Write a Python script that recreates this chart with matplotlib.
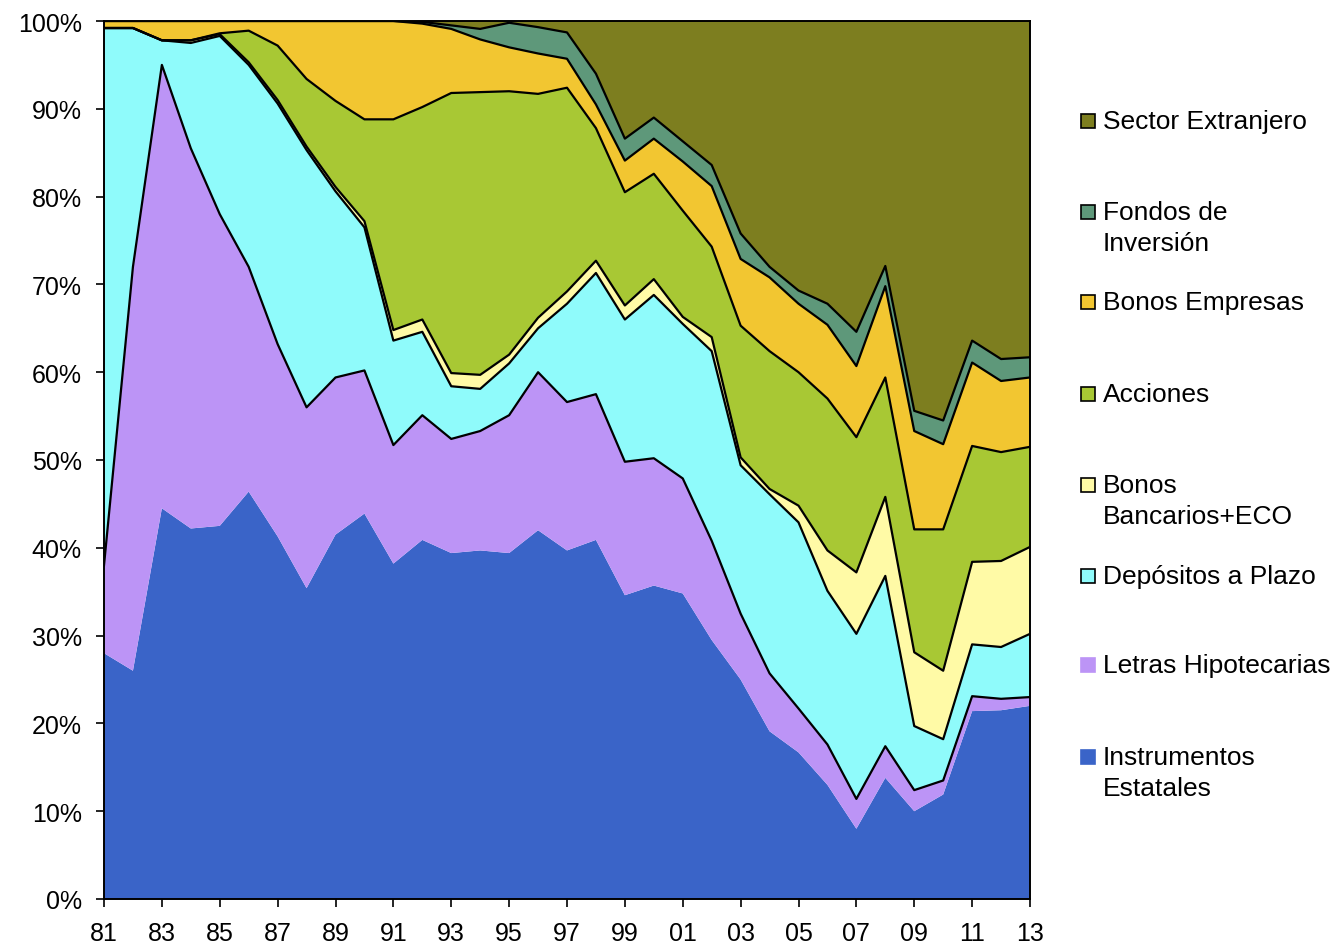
import numpy as np
import matplotlib
matplotlib.use("Agg")
import matplotlib.pyplot as plt
from matplotlib.patches import Rectangle

plt.rcParams['font.family'] = ['Liberation Sans', 'DejaVu Sans']

years = list(range(1981, 2014))
year_labels = ["81", "83", "85", "87", "89", "91", "93", "95", "97", "99",
               "01", "03", "05", "07", "09", "11", "13"]

# cumulative upper boundary (%) of each layer
top_estatales = [28, 26, 44.5, 42.2, 42.5, 46.4, 41.3, 35.4, 41.5, 43.9, 38.2, 40.9, 39.4, 39.7, 39.4, 42.0, 39.7,
                 40.9, 34.6, 35.7, 34.8, 29.5, 25.0, 19.1, 16.7, 13.0, 8.0, 13.8, 10.0, 11.9, 21.4, 21.5, 22.0]
top_letras = [38, 72, 95, 85.5, 78, 72, 63.2, 56, 59.4, 60.2, 51.7, 55.1, 52.4, 53.3, 55.1, 60.0, 56.6,
              57.5, 49.8, 50.2, 47.9, 40.8, 32.5, 25.7, 21.7, 17.6, 11.4, 17.4, 12.4, 13.5, 23.1, 22.8, 23.0]
top_depositos = [99.2, 99.2, 97.8, 97.5, 98.3, 95.0, 90.6, 85.3, 80.6, 76.5, 63.6, 64.6, 58.4, 58.1, 61.0, 65.0, 67.8,
                 71.3, 66.0, 68.8, 65.5, 62.4, 49.4, 46.1, 42.9, 35.1, 30.2, 36.8, 19.7, 18.2, 29.0, 28.7, 30.2]
top_bonos_banc = [99.2, 99.2, 97.8, 97.8, 98.5, 95.3, 91.0, 85.7, 81.1, 77.2, 64.8, 66.0, 59.9, 59.7, 62.0, 66.2, 69.2,
                  72.7, 67.6, 70.6, 66.3, 64.0, 50.3, 46.7, 44.8, 39.7, 37.2, 45.8, 28.1, 26.0, 38.4, 38.5, 40.1]
top_acciones = [99.2, 99.2, 97.8, 97.8, 98.6, 98.9, 97.2, 93.4, 90.9, 88.8, 88.8, 90.2, 91.8, 91.9, 92.0, 91.7, 92.4,
                87.8, 80.5, 82.6, 78.4, 74.3, 65.3, 62.4, 60.0, 57.0, 52.6, 59.4, 42.1, 42.1, 51.6, 50.9, 51.5]
top_bonos_emp = [100, 100, 100, 100, 100, 100, 100, 100, 100, 100, 100, 99.7, 99.1, 97.9, 97.0, 96.3, 95.7,
                 90.5, 84.1, 86.6, 84.0, 81.2, 72.9, 70.8, 67.8, 65.4, 60.7, 69.8, 53.3, 51.8, 61.1, 59.0, 59.4]
top_fondos = [100, 100, 100, 100, 100, 100, 100, 100, 100, 100, 100, 99.9, 99.5, 99.1, 99.8, 99.3, 98.7,
              94.0, 86.6, 89.0, 86.3, 83.6, 75.8, 72.0, 69.3, 67.8, 64.6, 72.1, 55.6, 54.5, 63.6, 61.5, 61.7]
top_extranjero = [100] * 33

names = ["Instrumentos\nEstatales", "Letras Hipotecarias", "Depósitos a Plazo", "Bonos\nBancarios+ECO",
         "Acciones", "Bonos Empresas", "Fondos de\nInversión", "Sector Extranjero"]
colors = ["#3A64C8", "#BC94F6", "#8FFBFB", "#FFFAA6", "#A8C834", "#F2C631", "#5E987A", "#7D7E1F"]
edged = [False, False, True, True, True, True, True, True]

tops = np.array([top_estatales, top_letras, top_depositos, top_bonos_banc, top_acciones,
                 top_bonos_emp, top_fondos, top_extranjero], dtype=float)
shares = np.diff(np.vstack([np.zeros(len(years)), tops]), axis=0)

W, H = 1341, 945
fig = plt.figure(figsize=(W / 100, H / 100), dpi=100)
ax = fig.add_axes([104 / W, 1 - 900 / H, (1030 - 104) / W, (900 - 22) / H])

ax.stackplot(years, shares, colors=colors, edgecolor='none', linewidth=0)
cum = np.cumsum(shares, axis=0)
for i in range(1, len(names) - 1):
    ax.plot(years, cum[i], color='black', lw=1.6)

ax.set_xlim(1981, 2013)
ax.set_ylim(0, 100)
ax.set_xticks(list(range(1981, 2014, 2)))
ax.set_xticklabels(year_labels)
ax.set_yticks(range(0, 101, 10))
ax.set_yticklabels([f"{v}%" for v in range(0, 101, 10)])
ax.tick_params(axis='both', labelsize=18, direction='out', length=6, width=1.2, colors='black')
ax.tick_params(axis='y', pad=10)
ax.tick_params(axis='x', pad=10)
for s in ax.spines.values():
    s.set_linewidth(1.4)
    s.set_color('black')

# legend drawn manually on the right
legend_rows = [
    (7, ["Sector Extranjero"], 122),
    (6, ["Fondos de", "Inversión"], 213),
    (5, ["Bonos Empresas"], 303),
    (4, ["Acciones"], 395),
    (3, ["Bonos", "Bancarios+ECO"], 486),
    (2, ["Depósitos a Plazo"], 577),
    (1, ["Letras Hipotecarias"], 666),
    (0, ["Instrumentos", "Estatales"], 758),
]
for idx, lines, ypx in legend_rows:
    sq = 14
    fig.patches.append(Rectangle(((1088 - sq / 2) / W, 1 - (ypx + sq / 2) / H), sq / W, sq / H,
                                 transform=fig.transFigure, facecolor=colors[idx],
                                 edgecolor='black' if edged[idx] else colors[idx], lw=1.2))
    for k, line in enumerate(lines):
        fig.text(1103 / W, 1 - (ypx + k * 31) / H, line, fontsize=19, va='center', ha='left')

fig.savefig("out.png", dpi=100)
